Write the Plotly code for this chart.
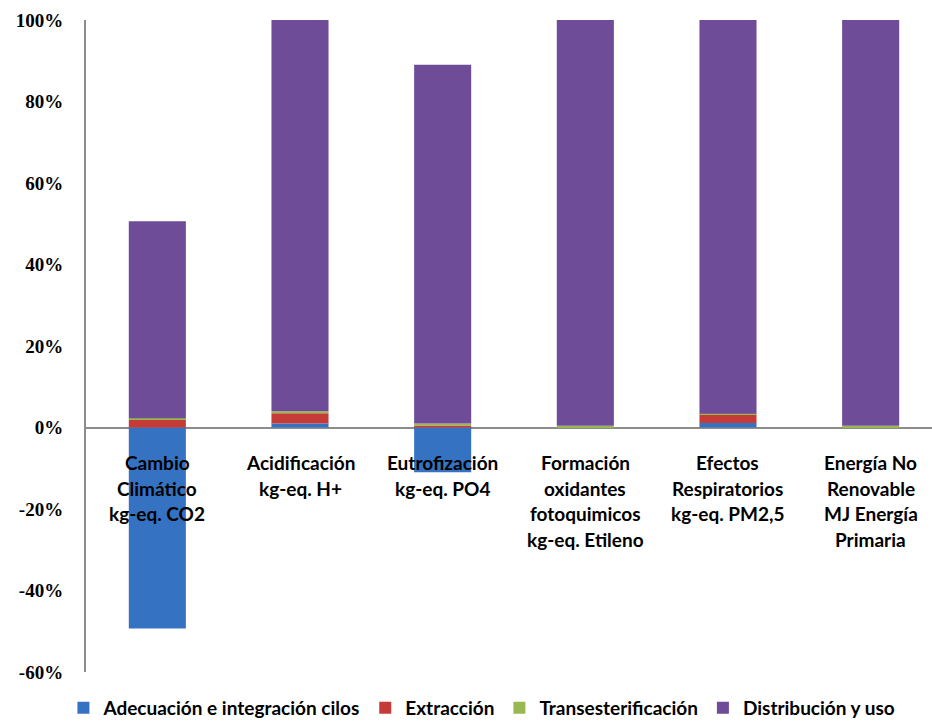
import plotly.graph_objects as go

# Impact categories (one line per label row)
categories = [
    ["Cambio", "Climático", "kg-eq. CO2"],
    ["Acidificación", "kg-eq. H+"],
    ["Eutrofización", "kg-eq. PO4"],
    ["Formación", "oxidantes", "fotoquimicos", "kg-eq. Etileno"],
    ["Efectos", "Respiratorios", "kg-eq. PM2,5"],
    ["Energía No", "Renovable", "MJ Energía", "Primaria"],
]

# Contribution of each stage (%)
adecuacion = [-49.3, 1.0, -11.0, 0.0, 1.1, 0.0]
extraccion = [1.9, 2.5, 0.5, 0.0, 2.0, 0.0]
transesterificacion = [0.4, 0.5, 0.5, 0.4, 0.3, 0.4]
distribucion = [48.3, 96.0, 88.0, 99.6, 96.6, 99.6]

series_names = ["Adecuación e integración cilos", "Extracción",
                "Transesterificación", "Distribución y uso"]
series_values = [adecuacion, extraccion, transesterificacion, distribucion]
series_colors = ["#3672C2", "#C43B37", "#97B94F", "#6E4C98"]

tick_vals = [-60, -40, -20, 0, 20, 40, 60, 80, 100]
tick_text = [f"{v}%" for v in tick_vals]

x_idx = list(range(len(categories)))

fig = go.Figure()
for name, vals, col in zip(series_names, series_values, series_colors):
    fig.add_trace(go.Bar(
        x=x_idx, y=vals, name=name,
        marker=dict(color=col, line=dict(width=0)),
        hoverinfo="name+y",
    ))

# Category labels sit just under the zero line
annotations = []
line_h = 25.7
for i, lines in enumerate(categories):
    for j, txt in enumerate(lines):
        annotations.append(dict(
            x=i, y=0, xref="x", yref="y", text=f"<b>{txt}</b>",
            showarrow=False, xanchor="center", yanchor="middle",
            yshift=-35 - j * line_h,
            font=dict(family="Lato", size=19, color="#000000"),
        ))

fig.update_layout(
    width=932, height=727,
    margin=dict(l=86, r=0, t=20, b=55),
    paper_bgcolor="white", plot_bgcolor="white",
    barmode="relative", bargap=0.6,
    showlegend=True,
    legend=dict(orientation="h", x=0.468, xanchor="center",
                yref="container", y=-0.01, yanchor="bottom",
                font=dict(family="Lato", size=19, color="#000", weight="bold"),
                itemwidth=30, tracegroupgap=0, traceorder="normal"),
    xaxis=dict(range=[-0.5, 5.43], showticklabels=False, showgrid=False,
               zeroline=False, showline=False, fixedrange=True),
    yaxis=dict(range=[-60, 100], tickvals=tick_vals, ticktext=tick_text,
               showgrid=False, zeroline=True, zerolinecolor="#8C8C8C",
               zerolinewidth=2, showline=True, linecolor="#8C8C8C",
               linewidth=2, ticks="", ticklabelstandoff=17,
               tickfont=dict(family="Liberation Serif", size=19,
                             color="#000", weight="bold")),
    annotations=annotations,
)

fig.write_html("out.html")
